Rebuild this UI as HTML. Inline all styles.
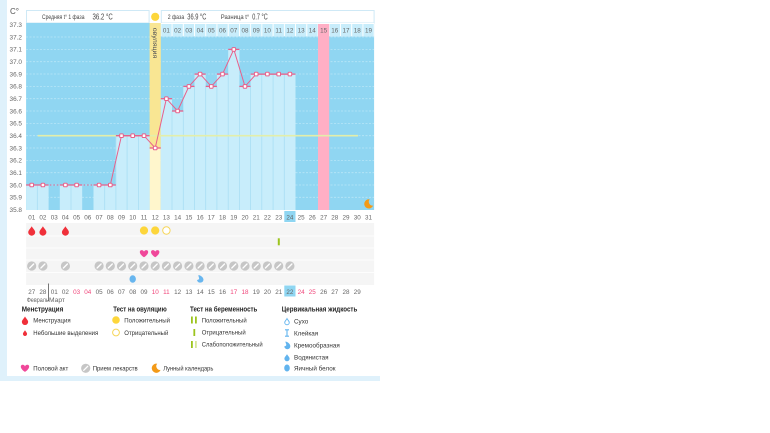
<!DOCTYPE html>
<html><head><meta charset="utf-8"><style>html,body{margin:0;padding:0;background:#fff}svg{display:block}text{font-family:"Liberation Sans",sans-serif}</style></head>
<body>
<svg width="770" height="433" viewBox="0 0 770 433" xmlns="http://www.w3.org/2000/svg">
<defs>
 <path id="drop" d="M0,-4.5 C1,-2.5 3.5,-0.5 3.5,1.5 A3.5,3.5 0 0 1 -3.5,1.5 C-3.5,-0.5 -1,-2.5 0,-4.5Z"/>
 <g id="pill"><circle r="4.6" fill="#c6c6c6"/><line x1="-2" y1="2" x2="2" y2="-2" stroke="#fff" stroke-width="1.3" stroke-linecap="round"/></g>
 <path id="heart" d="M0,3.6 C-5.5,0 -4.8,-3.6 -2.3,-3.6 C-1,-3.6 0,-2.6 0,-1.8 C0,-2.6 1,-3.6 2.3,-3.6 C4.8,-3.6 5.5,0 0,3.6Z"/>
 <path id="moon" d="M1.2,-4.6 A4.6,4.6 0 1 0 4.6,1.6 A3.8,3.8 0 0 1 1.2,-4.6Z"/>
 <g id="mk"><rect x="-1.8" y="-1.8" width="3.6" height="3.6" rx="0.8" fill="#fff" stroke="#e8608a" stroke-width="1"/></g>
</defs>
<rect width="770" height="433" fill="#fff"/>
<!-- frame -->
<rect x="0" y="0" width="7" height="381" fill="#dff1fb"/>
<rect x="0" y="376" width="380" height="5" fill="#dff1fb"/>

<!-- axis title -->
<text x="10" y="14" font-size="8" fill="#555">C°</text>

<!-- headers -->
<rect x="26.5" y="10.5" width="122.6" height="12.5" fill="#fff" stroke="#cfe9f6" stroke-width="1"/>
<text x="42" y="19" font-size="6" fill="#444" textLength="42.5" lengthAdjust="spacingAndGlyphs">Средняя t° 1 фаза</text>
<text x="92.5" y="19.3" font-size="7.8" fill="#444" textLength="20.3" lengthAdjust="spacingAndGlyphs">36.2 °C</text>
<circle cx="155.2" cy="16.8" r="4.1" fill="#fdd63b"/>
<rect x="161.3" y="10.5" width="212.8" height="12.5" fill="#fff" stroke="#cfe9f6" stroke-width="1"/>
<text x="167.7" y="19" font-size="6.3" fill="#444" textLength="16.5" lengthAdjust="spacingAndGlyphs">2 фаза</text>
<text x="187.3" y="19.3" font-size="7.8" fill="#444" textLength="19" lengthAdjust="spacingAndGlyphs">36.9 °C</text>
<text x="220.7" y="19" font-size="6" fill="#444" textLength="28.6" lengthAdjust="spacingAndGlyphs">Разница t°</text>
<text x="252.3" y="19.3" font-size="7.8" fill="#444" textLength="15.4" lengthAdjust="spacingAndGlyphs">0.7 °C</text>

<!-- plot bg -->
<rect x="26.1" y="23" width="348" height="187" fill="#90d6f2"/>
<g stroke="#b8e6f8" stroke-width="0.8" stroke-dasharray="2 1.5">
 <line x1="26" y1="37" x2="374" y2="37"/><line x1="26" y1="49.4" x2="374" y2="49.4"/><line x1="26" y1="61.7" x2="374" y2="61.7"/>
 <line x1="26" y1="74" x2="374" y2="74"/><line x1="26" y1="86.4" x2="374" y2="86.4"/><line x1="26" y1="98.7" x2="374" y2="98.7"/>
 <line x1="26" y1="111" x2="374" y2="111"/><line x1="26" y1="123.4" x2="374" y2="123.4"/><line x1="26" y1="135.7" x2="374" y2="135.7"/>
 <line x1="26" y1="148" x2="374" y2="148"/><line x1="26" y1="160.4" x2="374" y2="160.4"/><line x1="26" y1="172.7" x2="374" y2="172.7"/>
 <line x1="26" y1="185" x2="374" y2="185"/><line x1="26" y1="197.3" x2="374" y2="197.3"/>
</g>

<!-- y labels -->
<g font-size="6.4" fill="#666" text-anchor="end">
<text x="22" y="27">37.3</text><text x="22" y="39.3">37.2</text><text x="22" y="51.7">37.1</text><text x="22" y="64">37.0</text>
<text x="22" y="76.3">36.9</text><text x="22" y="88.7">36.8</text><text x="22" y="101">36.7</text><text x="22" y="113.3">36.6</text>
<text x="22" y="125.7">36.5</text><text x="22" y="138">36.4</text><text x="22" y="150.3">36.3</text><text x="22" y="162.7">36.2</text>
<text x="22" y="175">36.1</text><text x="22" y="187.3">36.0</text><text x="22" y="199.6">35.9</text><text x="22" y="212">35.8</text>
</g>

<!-- ovulation column -->
<rect x="149.6" y="23" width="11.2" height="125" fill="#f9e693"/>
<rect x="149.6" y="148" width="11.2" height="62" fill="#fff6cc"/>
<text transform="translate(153,27.7) rotate(90)" font-size="6.8" fill="#555" textLength="30.6" lengthAdjust="spacingAndGlyphs">овуляция</text>

<!-- phase 2 day cells -->
<rect x="160.8" y="23" width="213.3" height="13.3" fill="#fff"/>
<g fill="#c8edfb">
<rect x="161.3" y="24" width="10.3" height="12"/><rect x="172.5" y="24" width="10.3" height="12"/><rect x="183.8" y="24" width="10.3" height="12"/>
<rect x="195" y="24" width="10.3" height="12"/><rect x="206.2" y="24" width="10.3" height="12"/><rect x="217.4" y="24" width="10.3" height="12"/>
<rect x="228.7" y="24" width="10.3" height="12"/><rect x="239.9" y="24" width="10.3" height="12"/><rect x="251.1" y="24" width="10.3" height="12"/>
<rect x="262.3" y="24" width="10.3" height="12"/><rect x="273.6" y="24" width="10.3" height="12"/><rect x="284.8" y="24" width="10.3" height="12"/>
<rect x="296" y="24" width="10.3" height="12"/><rect x="307.3" y="24" width="10.3" height="12"/>
<rect x="329.7" y="24" width="10.3" height="12"/><rect x="340.9" y="24" width="10.3" height="12"/><rect x="352.2" y="24" width="10.3" height="12"/><rect x="363.4" y="24" width="10.3" height="12"/>
</g>
<!-- pink column day 27 -->
<rect x="318" y="24" width="11.2" height="186" fill="#ffafc5"/>
<g font-size="6.3" fill="#666" text-anchor="middle">
<text x="166.4" y="32.5">01</text><text x="177.6" y="32.5">02</text><text x="188.9" y="32.5">03</text><text x="200.1" y="32.5">04</text>
<text x="211.3" y="32.5">05</text><text x="222.5" y="32.5">06</text><text x="233.8" y="32.5">07</text><text x="245" y="32.5">08</text>
<text x="256.2" y="32.5">09</text><text x="267.4" y="32.5">10</text><text x="278.7" y="32.5">11</text><text x="289.9" y="32.5">12</text>
<text x="301.1" y="32.5">13</text><text x="312.3" y="32.5">14</text><text x="323.6" y="32.5">15</text><text x="334.8" y="32.5">16</text>
<text x="346" y="32.5">17</text><text x="357.2" y="32.5">18</text><text x="368.5" y="32.5">19</text>
</g>

<!-- light bars -->
<g fill="#c8edfb">
<rect x="26.1" y="185" width="22.5" height="25"/>
<rect x="59.8" y="185" width="22.4" height="25"/>
<rect x="93.5" y="185" width="22.4" height="25"/>
<rect x="115.9" y="135.7" width="33.7" height="74.3"/>
<rect x="160.8" y="98.7" width="11.2" height="111.3"/>
<rect x="172" y="111" width="11.3" height="99"/>
<rect x="183.3" y="86.4" width="11.2" height="123.6"/>
<rect x="194.5" y="74.1" width="11.2" height="135.9"/>
<rect x="205.7" y="86.4" width="11.2" height="123.6"/>
<rect x="216.9" y="74.1" width="11.3" height="135.9"/>
<rect x="228.2" y="49.4" width="11.2" height="160.6"/>
<rect x="239.4" y="86.4" width="11.2" height="123.6"/>
<rect x="250.6" y="74.1" width="44.9" height="135.9"/>
</g>
<g stroke="#a9def4" stroke-width="0.8">
<line x1="37.3" y1="185" x2="37.3" y2="210"/><line x1="71" y1="185" x2="71" y2="210"/><line x1="104.7" y1="185" x2="104.7" y2="210"/>
<line x1="115.9" y1="135.7" x2="115.9" y2="210"/><line x1="127.1" y1="135.7" x2="127.1" y2="210"/><line x1="138.4" y1="135.7" x2="138.4" y2="210"/>
<line x1="172" y1="111" x2="172" y2="210"/><line x1="183.3" y1="111" x2="183.3" y2="210"/><line x1="194.5" y1="86.4" x2="194.5" y2="210"/>
<line x1="205.7" y1="86.4" x2="205.7" y2="210"/><line x1="216.9" y1="86.4" x2="216.9" y2="210"/><line x1="228.2" y1="74.1" x2="228.2" y2="210"/>
<line x1="239.4" y1="86.4" x2="239.4" y2="210"/><line x1="250.6" y1="86.4" x2="250.6" y2="210"/><line x1="261.8" y1="74.1" x2="261.8" y2="210"/>
<line x1="273.1" y1="74.1" x2="273.1" y2="210"/><line x1="284.3" y1="74.1" x2="284.3" y2="210"/>
</g>

<!-- coverline -->
<line x1="37.7" y1="135.7" x2="358" y2="135.7" stroke="#e3eeaa" stroke-width="1.6"/>

<!-- temperature -->
<g stroke="#e8608a" stroke-width="1" fill="none">
<line x1="42.9" y1="185" x2="65.4" y2="185" stroke-dasharray="1.5 2"/>
<line x1="76.6" y1="185" x2="99.1" y2="185" stroke-dasharray="1.5 2"/>
<polyline points="99.1,185 110.3,185 121.5,135.7 132.7,135.7 144,135.7 155.2,148 166.4,98.7 177.6,111 188.9,86.4 200.1,74.1 211.3,86.4 222.5,74.1 233.8,49.4 245,86.4 256.2,74.1 267.4,74.1 278.7,74.1 289.9,74.1"/>
</g>
<g stroke="#e8608a" stroke-width="1.3">
<line x1="26.1" y1="185" x2="48.6" y2="185"/><line x1="59.8" y1="185" x2="82.2" y2="185"/><line x1="93.5" y1="185" x2="115.9" y2="185"/>
<line x1="115.9" y1="135.7" x2="149.6" y2="135.7"/><line x1="149.6" y1="148" x2="160.8" y2="148"/>
<line x1="160.8" y1="98.7" x2="172" y2="98.7"/><line x1="172" y1="111" x2="183.3" y2="111"/><line x1="183.3" y1="86.4" x2="194.5" y2="86.4"/>
<line x1="194.5" y1="74.1" x2="205.7" y2="74.1"/><line x1="205.7" y1="86.4" x2="216.9" y2="86.4"/><line x1="216.9" y1="74.1" x2="228.2" y2="74.1"/>
<line x1="228.2" y1="49.4" x2="239.4" y2="49.4"/><line x1="239.4" y1="86.4" x2="250.6" y2="86.4"/><line x1="250.6" y1="74.1" x2="295.5" y2="74.1"/>
</g>
<use href="#mk" x="31.7" y="185"/><use href="#mk" x="42.9" y="185"/><use href="#mk" x="65.4" y="185"/><use href="#mk" x="76.6" y="185"/>
<use href="#mk" x="99.1" y="185"/><use href="#mk" x="110.3" y="185"/><use href="#mk" x="121.5" y="135.7"/><use href="#mk" x="132.7" y="135.7"/>
<use href="#mk" x="144" y="135.7"/><use href="#mk" x="155.2" y="148"/><use href="#mk" x="166.4" y="98.7"/><use href="#mk" x="177.6" y="111"/>
<use href="#mk" x="188.9" y="86.4"/><use href="#mk" x="200.1" y="74.1"/><use href="#mk" x="211.3" y="86.4"/><use href="#mk" x="222.5" y="74.1"/>
<use href="#mk" x="233.8" y="49.4"/><use href="#mk" x="245" y="86.4"/><use href="#mk" x="256.2" y="74.1"/><use href="#mk" x="267.4" y="74.1"/>
<use href="#mk" x="278.7" y="74.1"/><use href="#mk" x="289.9" y="74.1"/>

<!-- moon in plot -->
<use href="#moon" x="368.5" y="204" fill="#f39a18"/>

<!-- cycle day row -->
<rect x="284.3" y="211" width="11.2" height="11" fill="#8fd6f2"/>
<g font-size="6.3" fill="#666" text-anchor="middle">
<text x="31.7" y="219.5">01</text><text x="42.9" y="219.5">02</text><text x="54.2" y="219.5">03</text><text x="65.4" y="219.5">04</text>
<text x="76.6" y="219.5">05</text><text x="87.8" y="219.5">06</text><text x="99.1" y="219.5">07</text><text x="110.3" y="219.5">08</text>
<text x="121.5" y="219.5">09</text><text x="132.7" y="219.5">10</text><text x="144" y="219.5">11</text><text x="155.2" y="219.5">12</text>
<text x="166.4" y="219.5">13</text><text x="177.6" y="219.5">14</text><text x="188.9" y="219.5">15</text><text x="200.1" y="219.5">16</text>
<text x="211.3" y="219.5">17</text><text x="222.5" y="219.5">18</text><text x="233.8" y="219.5">19</text><text x="245" y="219.5">20</text>
<text x="256.2" y="219.5">21</text><text x="267.4" y="219.5">22</text><text x="278.7" y="219.5">23</text><text x="289.9" y="219.5">24</text>
<text x="301.1" y="219.5">25</text><text x="312.3" y="219.5">26</text><text x="323.6" y="219.5">27</text><text x="334.8" y="219.5">28</text>
<text x="346" y="219.5">29</text><text x="357.2" y="219.5">30</text><text x="368.5" y="219.5">31</text>
</g>

<!-- icon area -->
<rect x="26.1" y="223" width="348" height="62" fill="#f5f5f5"/>
<g stroke="#fff" stroke-width="0.8">
<line x1="26" y1="236" x2="374" y2="236"/><line x1="26" y1="248" x2="374" y2="248"/><line x1="26" y1="260" x2="374" y2="260"/><line x1="26" y1="272.5" x2="374" y2="272.5"/>
</g>
<g fill="#f0303a">
<use href="#drop" x="31.7" y="230.7"/><use href="#drop" x="42.9" y="230.7"/><use href="#drop" x="65.4" y="230.7"/>
</g>
<circle cx="144" cy="230.5" r="4.1" fill="#fdd63b"/><circle cx="155.2" cy="230.5" r="4.1" fill="#fdd63b"/>
<circle cx="166.4" cy="230.5" r="3.7" fill="#fff" stroke="#f6d65a" stroke-width="1"/>
<rect x="277.8" y="238.3" width="2" height="7" fill="#9cc41e"/>
<g fill="#f0489a"><use href="#heart" x="144" y="253.7"/><use href="#heart" x="155.2" y="253.7"/></g>
<use href="#pill" x="31.7" y="266"/><use href="#pill" x="42.9" y="266"/><use href="#pill" x="65.4" y="266"/>
<use href="#pill" x="99.1" y="266"/><use href="#pill" x="110.3" y="266"/><use href="#pill" x="121.5" y="266"/><use href="#pill" x="132.7" y="266"/>
<use href="#pill" x="144" y="266"/><use href="#pill" x="155.2" y="266"/><use href="#pill" x="166.4" y="266"/><use href="#pill" x="177.6" y="266"/>
<use href="#pill" x="188.9" y="266"/><use href="#pill" x="200.1" y="266"/><use href="#pill" x="211.3" y="266"/><use href="#pill" x="222.5" y="266"/>
<use href="#pill" x="233.8" y="266"/><use href="#pill" x="245" y="266"/><use href="#pill" x="256.2" y="266"/><use href="#pill" x="267.4" y="266"/>
<use href="#pill" x="278.7" y="266"/><use href="#pill" x="289.9" y="266"/>
<ellipse cx="132.7" cy="279" rx="3.2" ry="3.8" fill="#68b6ef"/>
<path d="M198.5,275 C201,275.5 203.5,277.5 203.5,279.8 A3.3,3.3 0 0 1 197,280 C198.5,280 199.5,279 199,277.8 C198.8,276.8 198.2,276 198.5,275Z" fill="#68b6ef"/>

<!-- date row -->
<rect x="284.3" y="285.5" width="11.2" height="11" fill="#8fd6f2"/>
<g font-size="6.3" fill="#666" text-anchor="middle">
<text x="31.7" y="293.8">27</text><text x="42.9" y="293.8">28</text><text x="54.2" y="293.8">01</text><text x="65.4" y="293.8">02</text>
<text x="76.6" y="293.8" fill="#f0457a">03</text><text x="87.8" y="293.8" fill="#f0457a">04</text><text x="99.1" y="293.8">05</text><text x="110.3" y="293.8">06</text>
<text x="121.5" y="293.8">07</text><text x="132.7" y="293.8">08</text><text x="144" y="293.8">09</text><text x="155.2" y="293.8" fill="#f0457a">10</text>
<text x="166.4" y="293.8" fill="#f0457a">11</text><text x="177.6" y="293.8">12</text><text x="188.9" y="293.8">13</text><text x="200.1" y="293.8">14</text>
<text x="211.3" y="293.8">15</text><text x="222.5" y="293.8">16</text><text x="233.8" y="293.8" fill="#f0457a">17</text><text x="245" y="293.8" fill="#f0457a">18</text>
<text x="256.2" y="293.8">19</text><text x="267.4" y="293.8">20</text><text x="278.7" y="293.8">21</text><text x="289.9" y="293.8">22</text>
<text x="301.1" y="293.8" fill="#f0457a">24</text><text x="312.3" y="293.8" fill="#f0457a">25</text><text x="323.6" y="293.8">26</text><text x="334.8" y="293.8">27</text>
<text x="346" y="293.8">28</text><text x="357.2" y="293.8">29</text>
</g>
<line x1="48.6" y1="283.5" x2="48.6" y2="301" stroke="#555" stroke-width="0.8"/>
<text x="26.7" y="302" font-size="6.5" fill="#666" textLength="22" lengthAdjust="spacingAndGlyphs">Февраль</text>
<text x="49" y="302" font-size="6.5" fill="#666" textLength="16" lengthAdjust="spacingAndGlyphs">Март</text>

<!-- legend -->
<g font-size="7" font-weight="bold" fill="#222">
<text x="21.7" y="311.7" textLength="41.6" lengthAdjust="spacingAndGlyphs">Менструация</text>
<text x="113.3" y="311.7" textLength="53.4" lengthAdjust="spacingAndGlyphs">Тест на овуляцию</text>
<text x="190" y="311.7" textLength="67.3" lengthAdjust="spacingAndGlyphs">Тест на беременность</text>
<text x="281.7" y="311.7" textLength="75.6" lengthAdjust="spacingAndGlyphs">Цервикальная жидкость</text>
</g>
<g font-size="6.3" fill="#333">
<text x="33.3" y="322.3" textLength="37.4" lengthAdjust="spacingAndGlyphs">Менструация</text>
<text x="33.3" y="334.8" textLength="65" lengthAdjust="spacingAndGlyphs">Небольшие выделения</text>
<text x="124.3" y="322.3" textLength="45.7" lengthAdjust="spacingAndGlyphs">Положительный</text>
<text x="124.3" y="334.8" textLength="44" lengthAdjust="spacingAndGlyphs">Отрицательный</text>
<text x="201.7" y="322.3" textLength="45" lengthAdjust="spacingAndGlyphs">Положительный</text>
<text x="201.7" y="334.5" textLength="44" lengthAdjust="spacingAndGlyphs">Отрицательный</text>
<text x="201.7" y="346.5" textLength="61" lengthAdjust="spacingAndGlyphs">Слабоположительный</text>
<text x="294" y="323.3">Сухо</text>
<text x="294" y="335.3">Клейкая</text>
<text x="294" y="347.3">Кремообразная</text>
<text x="294" y="359.3">Водянистая</text>
<text x="294" y="370.6">Яичный белок</text>
<text x="33.3" y="370.6" textLength="35" lengthAdjust="spacingAndGlyphs">Половой акт</text>
<text x="92.7" y="370.6" textLength="45" lengthAdjust="spacingAndGlyphs">Прием лекарств</text>
<text x="163.3" y="370.6" textLength="50" lengthAdjust="spacingAndGlyphs">Лунный календарь</text>
</g>
<use href="#drop" transform="translate(25,320.5) scale(0.9)" fill="#f0303a"/>
<use href="#drop" transform="translate(25,333) scale(0.6)" fill="#f0303a"/>
<circle cx="116" cy="320" r="3.8" fill="#fdd63b"/>
<circle cx="116" cy="332.5" r="3.4" fill="#fff" stroke="#f6d65a" stroke-width="1"/>
<rect x="191" y="316.5" width="1.8" height="7" fill="#9cc41e"/><rect x="195" y="316.5" width="1.8" height="7" fill="#9cc41e"/>
<rect x="193.4" y="329" width="1.8" height="7" fill="#9cc41e"/>
<rect x="191" y="341" width="1.8" height="7" fill="#9cc41e"/><rect x="195" y="341" width="1.8" height="7" fill="#d6e89a"/>
<use href="#drop" transform="translate(287,321.5) scale(0.65)" fill="#fff" stroke="#62b4ee" stroke-width="1.4"/>
<path d="M285,329.8 H289 M285,336.2 H289 M287,329.8 V336.2" stroke="#62b4ee" stroke-width="1.1" fill="none"/>
<path d="M285.5,341.5 C288,342 290.3,344 290.3,346.2 A3,3 0 0 1 284.3,346.3 C285.7,346.3 286.6,345.5 286.2,344.3 C286,343.3 285.3,342.5 285.5,341.5Z" fill="#62b4ee"/>
<use href="#drop" transform="translate(287,357.5) scale(0.75)" fill="#62b4ee"/>
<ellipse cx="287" cy="368" rx="2.8" ry="3.5" fill="#62b4ee"/>
<use href="#heart" x="25" y="368.3" fill="#f0489a"/>
<use href="#pill" x="85.7" y="368.3"/>
<use href="#moon" x="156" y="368.3" fill="#f39a18"/>
</svg>
</body></html>
